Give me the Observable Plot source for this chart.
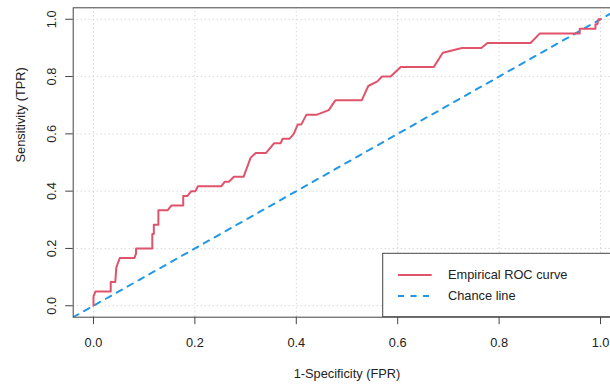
<!DOCTYPE html>
<html>
<head>
<meta charset="utf-8">
<script src="https://cdn.jsdelivr.net/npm/d3@7"></script>
<script src="https://cdn.jsdelivr.net/npm/@observablehq/plot@0.6"></script>
<style>
  html, body { margin: 0; padding: 0; background: #fff; }
  #chart svg { display: block; }
</style>
</head>
<body>
<div id="chart"></div>
<script>
// ---- data ----
const fpr = [0, 0, 0.004, 0.034, 0.034, 0.043, 0.045, 0.047, 0.052, 0.081, 0.084, 0.084, 0.116, 0.116, 0.119, 0.119, 0.128, 0.128, 0.146, 0.154, 0.177, 0.177, 0.185, 0.193, 0.201, 0.206, 0.252, 0.259, 0.267, 0.277, 0.296, 0.31, 0.32, 0.34, 0.356, 0.369, 0.373, 0.387, 0.395, 0.403, 0.41, 0.42, 0.441, 0.464, 0.477, 0.529, 0.542, 0.56, 0.569, 0.586, 0.606, 0.671, 0.689, 0.727, 0.765, 0.777, 0.862, 0.88, 0.959, 0.959, 0.99, 0.99, 0.994, 0.996, 1];
const tpr = [0, 0.033, 0.05, 0.05, 0.083, 0.083, 0.133, 0.143, 0.167, 0.167, 0.183, 0.2, 0.2, 0.25, 0.25, 0.283, 0.283, 0.333, 0.333, 0.35, 0.35, 0.383, 0.383, 0.4, 0.4, 0.417, 0.417, 0.433, 0.433, 0.45, 0.45, 0.517, 0.533, 0.533, 0.567, 0.567, 0.583, 0.583, 0.6, 0.633, 0.633, 0.667, 0.667, 0.683, 0.717, 0.717, 0.767, 0.783, 0.8, 0.8, 0.833, 0.833, 0.883, 0.9, 0.9, 0.917, 0.917, 0.95, 0.95, 0.967, 0.967, 0.983, 0.983, 1, 1];
const chanceEnds = [-0.04, 1.04];
const ticks = [0, 0.2, 0.4, 0.6, 0.8, 1.0];
const tickLabels = ["0.0", "0.2", "0.4", "0.6", "0.8", "1.0"];
const seriesNames = ["Empirical ROC curve", "Chance line"];
const xTitle = "1-Specificity (FPR)";
const yTitle = "Sensitivity (TPR)";

// ---- build ----
const roc = fpr.map((x, i) => ({fpr: x, tpr: tpr[i]}));
const chance = chanceEnds.map(v => ({x: v, y: v}));
const RED = "#DF536B", BLUE = "#2297E6";
const W = 610, H = 385;
const mL = 72.7, mR = -10.3, mT = 7.3, mB = 68.3;
const FONT = "'Liberation Sans', Arial, Helvetica, sans-serif";
const FS = 12.8;
const fmt = d => tickLabels[ticks.indexOf(d)];

const plot = Plot.plot({
  width: W, height: H,
  marginLeft: mL, marginRight: mR, marginTop: mT, marginBottom: mB,
  style: {fontFamily: FONT, fontSize: FS + "px", color: "#222", background: "#fff", overflow: "hidden"},
  x: {domain: [-0.04, 1.04]},
  y: {domain: [-0.04, 1.04]},
  marks: [
    Plot.gridX(ticks, {stroke: "#c8c8c8", strokeOpacity: 1, strokeDasharray: "1,3"}),
    Plot.gridY(ticks, {stroke: "#c8c8c8", strokeOpacity: 1, strokeDasharray: "1,3"}),
    Plot.line(chance, {x: "x", y: "y", stroke: BLUE, strokeWidth: 2, strokeDasharray: "6,6.5", clip: true}),
    Plot.line(roc, {x: "fpr", y: "tpr", stroke: RED, strokeWidth: 2, clip: true}),
    Plot.frame({stroke: "#444", strokeWidth: 1}),
    Plot.axisX(ticks, {tickFormat: fmt, tickSize: 7.5, tickPadding: 13.3, label: null, stroke: "#444", fill: "#222", fontSize: FS}),
    Plot.axisY(ticks, {tickFormat: fmt, tickSize: 7.5, tickPadding: 10, tickRotate: -90, label: null, stroke: "#444", fill: "#222", fontSize: FS}),
    Plot.text([xTitle], {frameAnchor: "bottom", dy: 57, lineAnchor: "middle", fill: "#222", fontSize: FS}),
    Plot.text([yTitle], {frameAnchor: "left", dx: -52.7, rotate: -90, lineAnchor: "middle", fill: "#222", fontSize: FS})
  ]
});

// ---- legend (bottom-right, R style) ----
const svg = d3.select(plot);
const frameRight = W - mR, frameBottom = H - mB;
const lg = svg.append("g").attr("font-family", FONT).attr("font-size", FS).attr("text-anchor", "start");
const bx = 382.7, by = 253.3;
lg.append("rect").attr("x", bx).attr("y", by).attr("width", frameRight - bx).attr("height", frameBottom - by)
  .attr("fill", "#fff").attr("stroke", "#444").attr("stroke-width", 1);
const rows = [
  {name: seriesNames[0], color: RED, dash: null, y: by + 21.7},
  {name: seriesNames[1], color: BLUE, dash: "6,6.5", y: by + 42.7}
];
rows.forEach(r => {
  lg.append("line").attr("x1", bx + 15.3).attr("x2", bx + 49).attr("y1", r.y).attr("y2", r.y)
    .attr("stroke", r.color).attr("stroke-width", 2).attr("stroke-dasharray", r.dash);
  lg.append("text").attr("x", bx + 65.3).attr("y", r.y).attr("dy", "0.35em")
    .attr("text-anchor", "start").attr("fill", "#222").text(r.name);
});

document.getElementById("chart").appendChild(plot);
</script>
</body>
</html>
